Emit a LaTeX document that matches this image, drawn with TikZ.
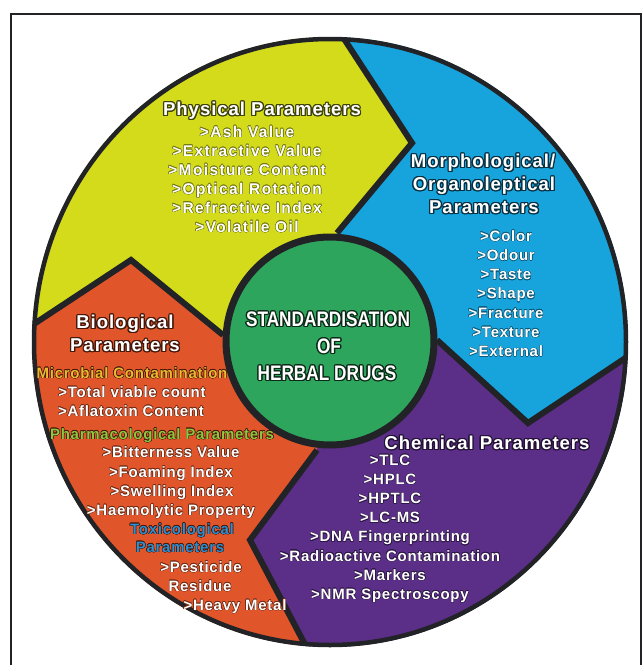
\documentclass[tikz,border=0pt]{standalone}
\usepackage{fontspec}
\setmainfont{Liberation Sans}[LetterSpace=5]
\newfontfamily\narrowfont{Liberation Sans}[FakeStretch=0.82]
\usepackage{contour}
\definecolor{physyellow}{HTML}{D3DB1B}
\definecolor{morphblue}{HTML}{17A3DC}
\definecolor{chempurple}{HTML}{5B2E87}
\definecolor{bioorange}{HTML}{E1552A}
\definecolor{coregreen}{HTML}{2EA55C}
\definecolor{rim}{HTML}{222326}
\definecolor{microgold}{HTML}{EDBA2F}
\definecolor{pharmgreen}{HTML}{8DC73F}
\definecolor{toxblue}{HTML}{2A8FD3}
\newcommand\headglow[2]{{\contourlength{1.2pt}\contour{#1}{#2}}}
\newcommand\itemglow[2]{{\contourlength{0.45pt}\contour{#1}{#2}}}

\begin{document}
\begin{tikzpicture}[x=1pt, y=-1pt,
    head/.style={font=\fontsize{18.6}{23}\selectfont\bfseries, text=white, inner sep=0pt, text height=13.3pt, text depth=0pt},
    item/.style={font=\fontsize{15}{19}\selectfont\bfseries, text=white, inner sep=0pt, text height=10.7pt, text depth=0pt},
    wideitem/.style={item, font=\fontsize{15.5}{19}\selectfont\bfseries\addfontfeature{LetterSpace=9}},
    core/.style={font=\narrowfont\fontsize{21}{26}\selectfont\bfseries, text=white, inner sep=0pt, text height=15pt, text depth=0pt},
    boundary/.style={rim, line width=6pt, line join=miter}]
  \useasboundingbox (0,0) rectangle (643,665);
  \draw[rim, line width=1.3pt] (11,665) -- (11,14) -- (641,14) -- (641,665);

  \coordinate (hub) at (330,341);
  \coordinate (yb-in) at (337,233);
  \coordinate (yb-tip) at (412,143);
  \coordinate (yb-out) at (322,5);
  \coordinate (bp-in) at (437,340);
  \coordinate (bp-tip) at (528,423);
  \coordinate (bp-out) at (672,327);
  \coordinate (po-in) at (317,450);
  \coordinate (po-tip) at (250,540);
  \coordinate (po-out) at (330,692);
  \coordinate (oy-in) at (223,335);
  \coordinate (oy-tip) at (131,260);
  \coordinate (oy-out) at (-10,353);

  \begin{scope}
    \clip (330,342) ellipse [x radius=298pt, y radius=305pt];
    \fill[physyellow] (hub) -- (oy-in) -- (oy-tip) -- (oy-out) -- (-10,-10) -- (322,-10) -- (yb-out) -- (yb-tip) -- (yb-in) -- cycle;
    \fill[morphblue] (hub) -- (yb-in) -- (yb-tip) -- (yb-out) -- (322,-10) -- (680,-10) -- (bp-out) -- (bp-tip) -- (bp-in) -- cycle;
    \fill[chempurple] (hub) -- (bp-in) -- (bp-tip) -- (bp-out) -- (680,700) -- (po-out) -- (po-tip) -- (po-in) -- cycle;
    \fill[bioorange] (hub) -- (po-in) -- (po-tip) -- (po-out) -- (-10,700) -- (oy-out) -- (oy-tip) -- (oy-in) -- cycle;
    \draw[boundary] (yb-in) -- (yb-tip) -- (yb-out);
    \draw[boundary] (bp-in) -- (bp-tip) -- (bp-out);
    \draw[boundary] (po-in) -- (po-tip) -- (po-out);
    \draw[boundary] (oy-in) -- (oy-tip) -- (oy-out);
  \end{scope}
  \draw[rim, line width=4.5pt] (330,342) ellipse [x radius=296pt, y radius=303pt];
  \draw[rim, line width=7pt, fill=coregreen] (hub) circle [radius=104pt];

  \node[core] (std) at (328,319) {\headglow{coregreen!25!black}{STANDARDISATION}};
  \node[core] (of) at (329,346) {\headglow{coregreen!25!black}{OF}};
  \node[core] (herbal) at (327,373) {\headglow{coregreen!25!black}{HERBAL DRUGS}};

  \node[head] (phys) at (262,109) {\headglow{physyellow!30!black}{Physical Parameters}};
  \foreach \txt [count=\i] in {>Ash Value, >Extractive Value, >Moisture Content, >Optical Rotation, >Refractive Index, >Volatile Oil}
    \node[wideitem] (phys-\i) at (247,113+19*\i) {\itemglow{physyellow!55!black}{\txt}};

  \node[head] (morph) at (483,161) {\headglow{morphblue!30!black}{Morphological/}};
  \node[head] (organo) at (484,184) {\headglow{morphblue!30!black}{Organoleptical}};
  \node[head] (morph-par) at (484,207) {\headglow{morphblue!30!black}{Parameters}};
  \foreach \txt [count=\i] in {>Color, >Odour, >Taste, >Shape, >Fracture, >Texture, >External}
    \node[item] (morph-\i) at (506,216.8+19.2*\i) {\itemglow{morphblue!55!black}{\txt}};

  \node[head] (chem) at (487,443) {\headglow{chempurple!40!black}{Chemical Parameters}};
  \foreach \txt [count=\i] in {>TLC, >HPLC, >HPTLC, >LC-MS, >DNA Fingerprinting, >Radioactive Contamination, >Markers, >NMR Spectroscopy}
    \node[item] (chem-\i) at (390,440.9+19.14*\i) {\itemglow{chempurple!50!black}{\txt}};

  \node[head] (bio) at (125,322) {\headglow{bioorange!30!black}{Biological}};
  \node[head] (bio-par) at (125,345) {\headglow{bioorange!30!black}{Parameters}};
  \node[item, text=microgold] (micro) at (132,373) {\itemglow{bioorange!30!black}{Microbial Contamination}};
  \node[item] (micro-1) at (132,392) {\itemglow{bioorange!50!black}{>Total viable count}};
  \node[item] (micro-2) at (131,411) {\itemglow{bioorange!50!black}{>Aflatoxin Content}};
  \node[item, text=pharmgreen] (pharm) at (162,434) {\itemglow{bioorange!30!black}{Pharmacological Parameters}};
  \node[item] (pharm-1) at (171,452) {\itemglow{bioorange!50!black}{>Bitterness Value}};
  \node[item] (pharm-2) at (171,472) {\itemglow{bioorange!50!black}{>Foaming Index}};
  \node[item] (pharm-3) at (172,491) {\itemglow{bioorange!50!black}{>Swelling Index}};
  \node[item] (pharm-4) at (171,510) {\itemglow{bioorange!50!black}{>Haemolytic Property}};
  \node[item, text=toxblue] (tox) at (182,529) {\itemglow{bioorange!30!black}{Toxicological}};
  \node[item, text=toxblue] (tox-par) at (180,547) {\itemglow{bioorange!30!black}{Parameters}};
  \node[item] (tox-1) at (201,567) {\itemglow{bioorange!50!black}{>Pesticide}};
  \node[item] (tox-2) at (200,586) {\itemglow{bioorange!50!black}{Residue}};
  \node[item] (tox-3) at (235,605) {\itemglow{bioorange!50!black}{>Heavy Metal}};
\end{tikzpicture}
\end{document}
